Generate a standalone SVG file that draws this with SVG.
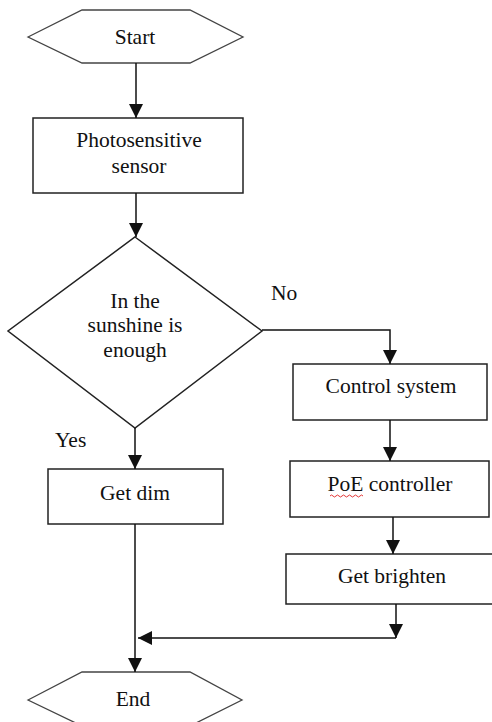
<svg xmlns="http://www.w3.org/2000/svg" width="492" height="722" viewBox="0 0 492 722">
<defs>
<style>
.shape{fill:#fff;stroke:#222;stroke-width:1.5}
.hex{fill:#fff;stroke:#444;stroke-width:1.3}
.conn{fill:none;stroke:#111;stroke-width:1.5}
.t{font-family:'Liberation Serif',serif;font-size:21.5px;fill:#111;text-anchor:middle}
.lbl{text-anchor:start}
</style>
<marker id="arr" markerUnits="userSpaceOnUse" markerWidth="14" markerHeight="14" viewBox="0 0 12 12" refX="12" refY="6" orient="auto">
<path d="M0,0 L12,6 L0,12 Z" fill="#111"/>
</marker>
</defs>
<rect width="492" height="722" fill="#fff"/>
<g id="start">
<polygon class="hex" points="28,37 82,10 190,10 243,37 190,63 82,63"/>
<text class="t" x="135" y="44">Start</text>
</g>
<g id="sensor">
<rect class="shape" x="33" y="118" width="210" height="75"/>
<text class="t" x="139" y="147">Photosensitive</text>
<text class="t" x="139" y="173">sensor</text>
</g>
<g id="decision">
<polygon class="shape" points="135,237 262,331 135,428 8,331"/>
<text class="t" x="135" y="308">In the</text>
<text class="t" x="135" y="332">sunshine is</text>
<text class="t" x="135" y="357">enough</text>
</g>
<g id="control">
<rect class="shape" x="293" y="364" width="194" height="56"/>
<text class="t" x="391" y="393">Control system</text>
</g>
<g id="poe">
<rect class="shape" x="290" y="461" width="199" height="56"/>
<text class="t" x="390" y="491">PoE controller</text>
<path d="M330,496 q1.5,-2 3,0 t3,0 t3,0 t3,0 t3,0 t3,0 t3,0 t3,0 t3,0 t3,0 t3,0" fill="none" stroke="#e02020" stroke-width="0.9"/>
</g>
<g id="brighten">
<rect class="shape" x="286" y="554" width="214" height="50"/>
<text class="t" x="392" y="583">Get brighten</text>
</g>
<g id="dim">
<rect class="shape" x="48" y="469" width="175" height="55"/>
<text class="t" x="135" y="500">Get dim</text>
</g>
<g id="end">
<polygon class="hex" points="28,700 82,672 190,672 242,700 190,726 82,726"/>
<text class="t" x="133" y="706">End</text>
</g>
<g id="connectors">
<path class="conn" d="M136,63 V118" marker-end="url(#arr)"/>
<path class="conn" d="M136,193 V237" marker-end="url(#arr)"/>
<path class="conn" d="M262,330 H390 V364" marker-end="url(#arr)"/>
<path class="conn" d="M390,420 V461" marker-end="url(#arr)"/>
<path class="conn" d="M393,517 V554" marker-end="url(#arr)"/>
<path class="conn" d="M135,428 V469" marker-end="url(#arr)"/>
<path class="conn" d="M135,524 V672" marker-end="url(#arr)"/>
<path class="conn" d="M396,604 V638" marker-end="url(#arr)"/>
<path class="conn" d="M396,638 H138" marker-end="url(#arr)"/>
<text class="t lbl" x="271" y="300">No</text>
<text class="t lbl" x="55" y="447">Yes</text>
</g>
</svg>
